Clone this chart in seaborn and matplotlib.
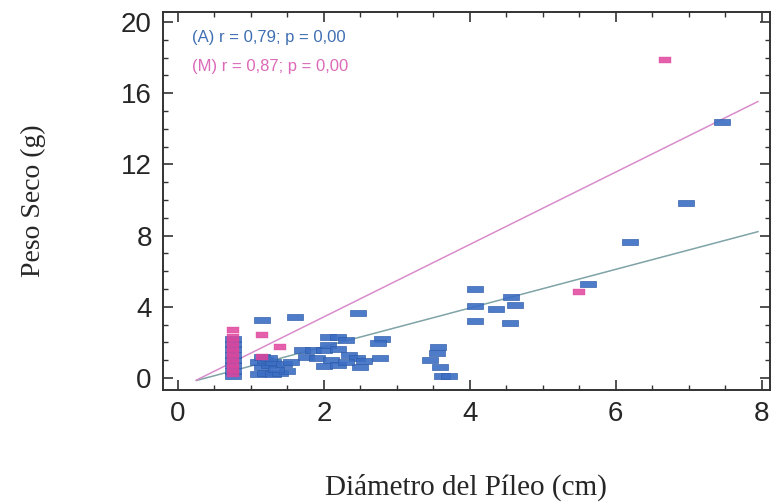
import matplotlib
matplotlib.use("Agg")
import matplotlib.pyplot as plt
from matplotlib.ticker import MultipleLocator
import numpy as np
import pandas as pd
import seaborn as sns

# Grupo A (azul)
a_x = [0.75, 0.75, 0.75, 0.75, 0.75, 0.75, 0.75, 0.75,
       1.1, 1.2, 1.3, 1.4, 1.5, 1.15, 1.25, 1.35, 1.1, 1.2, 1.3, 1.45, 1.55, 1.15, 1.25,
       1.15, 1.6, 2.47,
       1.7, 1.85, 2.0, 1.75, 1.9,
       2.05, 2.2, 2.3, 2.05, 2.2, 2.35, 2.45, 2.55, 2.1, 2.0, 2.2, 2.5, 2.3,
       2.8, 2.74, 2.77,
       3.56, 3.55, 3.45, 3.59, 3.62, 3.72,
       4.07, 4.07, 4.07, 4.36, 4.56, 4.62, 4.55,
       5.62, 6.2, 6.96, 7.45]
a_y = [0.1, 0.4, 0.7, 1.0, 1.3, 1.6, 1.9, 2.2,
       0.2, 0.3, 0.2, 0.3, 0.4, 0.6, 0.7, 0.5, 0.9, 1.0, 0.9, 0.8, 0.9, 1.2, 1.1,
       3.25, 3.45, 3.65,
       1.55, 1.55, 1.55, 1.2, 1.1,
       2.3, 2.3, 2.15, 1.85, 1.6, 1.3, 1.1, 0.95, 1.0, 0.65, 0.75, 0.6, 0.9,
       2.2, 1.97, 1.1,
       1.75, 1.4, 1.0, 0.6, 0.1, 0.1,
       5.0, 4.05, 3.2, 3.87, 4.55, 4.1, 3.1,
       5.28, 7.64, 9.83, 14.4]

# Grupo M (magenta)
m_x = [0.75, 0.75, 0.75, 0.75, 0.75, 0.75, 0.75, 0.75, 0.75,
       1.15, 1.4, 1.15, 5.5, 6.68]
m_y = [0.2, 0.5, 0.8, 1.1, 1.4, 1.7, 2.0, 2.3, 2.7,
       2.4, 1.75, 1.15, 4.83, 17.86]

# rectas de regresión: intercepto, pendiente, rango de x
fit_groups = ["A", "M"]
fit_intercept = [-0.42, -0.64]
fit_slope = [1.087, 2.035]
fit_xrange = [0.25, 7.95]
fit_labels = ["(A) r = 0,79; p = 0,00", "(M) r = 0,87; p = 0,00"]

blue = "#3b6ec4"
magenta = "#e0449c"
line_colors = {"A": "#7fa3a6", "M": "#d98ccb"}
text_colors = {"A": "#3f6fb2", "M": "#dc6ab8"}


def rect_marker(aspect):
    h = aspect
    return [(-1, -h), (1, -h), (1, h), (-1, h), (-1, -h)]


def main():
    sns.set_style("ticks")
    plt.rcParams["font.family"] = ["Liberation Sans", "DejaVu Sans"]

    fig, ax = plt.subplots(figsize=(7.76, 5.03), dpi=100)
    fig.subplots_adjust(left=0.21, right=0.992, bottom=0.225, top=0.976)

    lines = []
    for g, b0, b1 in zip(fit_groups, fit_intercept, fit_slope):
        xs = np.array(fit_xrange)
        lines.append(pd.DataFrame({"x": xs, "y": b0 + b1 * xs, "grupo": g}))
    lines = pd.concat(lines)
    sns.lineplot(data=lines, x="x", y="y", hue="grupo", palette=line_colors,
                 linewidth=1.1, legend=False, ax=ax, zorder=1)

    df_a = pd.DataFrame({"x": a_x, "y": a_y})
    df_m = pd.DataFrame({"x": m_x, "y": m_y})
    sns.scatterplot(data=df_a, x="x", y="y", marker=rect_marker(0.42), s=130,
                    color=blue, edgecolor="#2d5aa8", linewidth=0.5, alpha=0.9,
                    ax=ax, zorder=2)
    sns.scatterplot(data=df_m, x="x", y="y", marker=rect_marker(0.5), s=75,
                    color=magenta, edgecolor=magenta, linewidth=0.3, alpha=0.85,
                    ax=ax, zorder=3)

    for i, (g, label) in enumerate(zip(fit_groups, fit_labels)):
        ax.text(0.048, 0.932 - i * 0.077, label, transform=ax.transAxes,
                color=text_colors[g], fontsize=12, va="center", ha="left")

    ax.set_xlim(-0.205, 8.11)
    ax.set_ylim(-0.67, 20.56)
    ax.xaxis.set_major_locator(MultipleLocator(2))
    ax.xaxis.set_minor_locator(MultipleLocator(0.5))
    ax.yaxis.set_major_locator(MultipleLocator(4))
    ax.yaxis.set_minor_locator(MultipleLocator(1))
    ax.tick_params(which="both", direction="in", top=True, right=True,
                   color="#333333")
    ax.tick_params(which="major", length=7, width=1.2, labelsize=20, pad=8)
    ax.tick_params(which="minor", length=3.5, width=1.0)
    for side in ax.spines.values():
        side.set_color("#333333")
        side.set_linewidth(1.4)

    ax.set_xlabel("Diámetro del Píleo (cm)", fontsize=21,
                  family=["Liberation Serif", "DejaVu Serif"], labelpad=34)
    ax.set_ylabel("Peso Seco (g)", fontsize=20,
                  family=["Liberation Serif", "DejaVu Serif"], labelpad=54)

    fig.savefig("out.png", dpi=100)
    plt.close(fig)


if __name__ == "__main__":
    main()
